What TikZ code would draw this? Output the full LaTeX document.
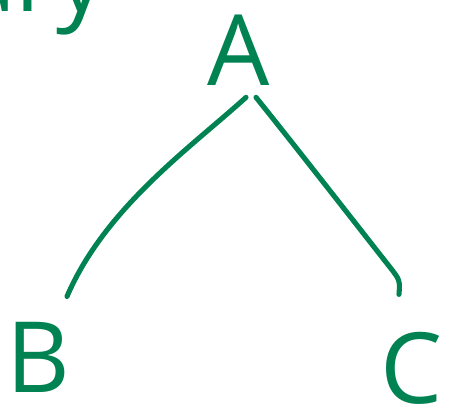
\documentclass[tikz,border=0pt]{standalone}
\usepackage{fontspec}
\setmainfont{Open Sans}
\usetikzlibrary{calc}
\definecolor{ink}{RGB}{0,130,82}
\tikzset{
  letter/.style={text=ink, inner sep=0pt, anchor=base, font=\fontsize{56}{60}\selectfont},
  edge/.style={draw=ink, line width=2.9pt, line cap=round}
}
\begin{document}
\begin{tikzpicture}[x=0.02cm, y=-0.02cm]
  \useasboundingbox (0,0) rectangle (456,414);
  \clip (0,0) rectangle (456,414);
  \node[letter, anchor=base east] (top) at (106,11) {ary};
  \node[letter] (A) at (239,85) {A};
  \node[letter] (B) at (38,392) {B};
  \node[letter] (C) at (412,403) {C};
  \draw[edge] ($(A.south)+(7,12)$) .. controls (190,148) and (105,208) .. ($(B.north)+(29,-25)$);
  \draw[edge] ($(A.south)+(17,12)$) .. controls (300,152) and (370,242) .. (389,266) .. controls (400,280) .. ($(C.north)+(-13,-37)$);
\end{tikzpicture}
\end{document}
